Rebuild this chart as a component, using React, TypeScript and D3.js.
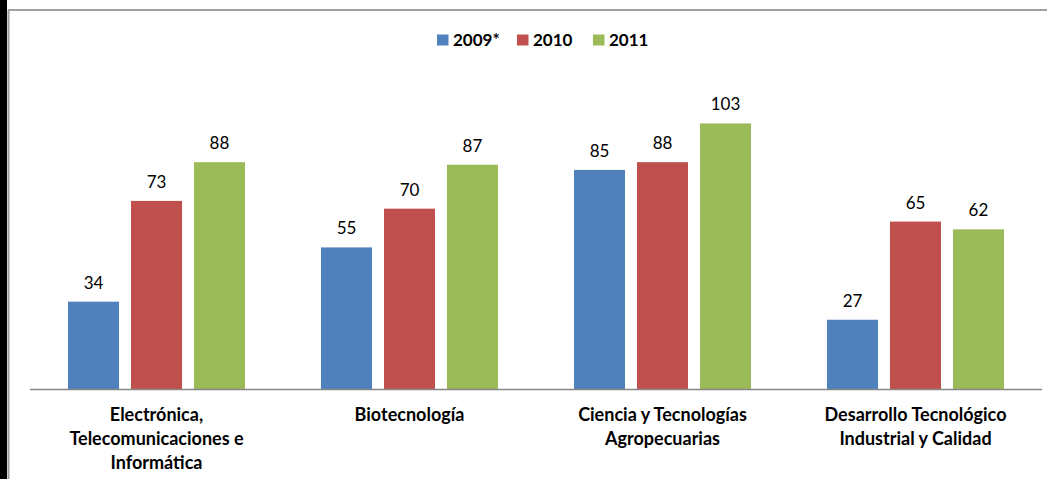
import React from "react";
import * as d3 from "d3";

const categories: string[][] = [
  ["Electrónica,", "Telecomunicaciones e", "Informática"],
  ["Biotecnología"],
  ["Ciencia y Tecnologías", "Agropecuarias"],
  ["Desarrollo Tecnológico", "Industrial y Calidad"],
];
const seriesNames = ["2009*", "2010", "2011"];
const values2009 = [34, 55, 85, 27];
const values2010 = [73, 70, 88, 65];
const values2011 = [88, 87, 103, 62];
const colors = ["#4F81BD", "#C0504D", "#9BBB59"];

const W = 1047;
const H = 479;
const FONT = "Lato, 'Open Sans', sans-serif";

export default function App() {
  const series = [values2009, values2010, values2011];
  const x0 = d3
    .scaleBand<number>()
    .domain(d3.range(categories.length))
    .range([30, 1042])
    .paddingInner(0)
    .paddingOuter(0);
  const x1 = d3
    .scaleBand<number>()
    .domain(d3.range(seriesNames.length))
    .range([38, 215])
    .paddingInner(0.19);
  const y = d3.scaleLinear().domain([0, 120]).range([389.5, 79.5]);

  const legendX = [437, 517, 593];

  return (
    <svg
      width={W}
      height={H}
      style={{ position: "absolute", left: 0, top: 0, background: "#fff" }}
    >
      <rect x={0} y={0} width={W} height={H} fill="#fff" />
      <rect x={0} y={0} width={7} height={H} fill="#000" />
      <line x1={8.5} y1={10} x2={8.5} y2={H} stroke="#a0a0a0" strokeWidth={2} />
      <line x1={8} y1={10} x2={W} y2={10} stroke="#a0a0a0" strokeWidth={2} />

      {series.map((vals, si) =>
        vals.map((v, ci) => {
          const bx = (x0(ci) as number) + (x1(si) as number);
          const bw = x1.bandwidth();
          return (
            <g key={`${si}-${ci}`}>
              <rect
                x={bx}
                y={y(v)}
                width={bw}
                height={y(0) - y(v)}
                fill={colors[si]}
              />
              <text
                x={bx + bw / 2}
                y={y(v) - 13}
                textAnchor="middle"
                fontFamily={FONT}
                fontSize={17}
                fill="#000"
              >
                {v}
              </text>
            </g>
          );
        })
      )}

      <line x1={30} y1={389.5} x2={1042} y2={389.5} stroke="#868686" strokeWidth={1.5} />

      {categories.map((lines, ci) => {
        const cx = (x0(ci) as number) + x0.bandwidth() / 2;
        return (
          <text
            key={ci}
            textAnchor="middle"
            fontFamily={FONT}
            fontWeight="bold"
            fontSize={18}
            fill="#000"
          >
            {lines.map((l, li) => (
              <tspan key={li} x={cx} y={420.5 + li * 24}>
                {l}
              </tspan>
            ))}
          </text>
        );
      })}

      {seriesNames.map((n, si) => (
        <g key={n}>
          <rect x={legendX[si]} y={34.5} width={11.5} height={11} fill={colors[si]} />
          <text
            x={legendX[si] + 16}
            y={46}
            fontFamily={FONT}
            fontWeight="bold"
            fontSize={17}
            fill="#000"
          >
            {n}
          </text>
        </g>
      ))}
    </svg>
  );
}
